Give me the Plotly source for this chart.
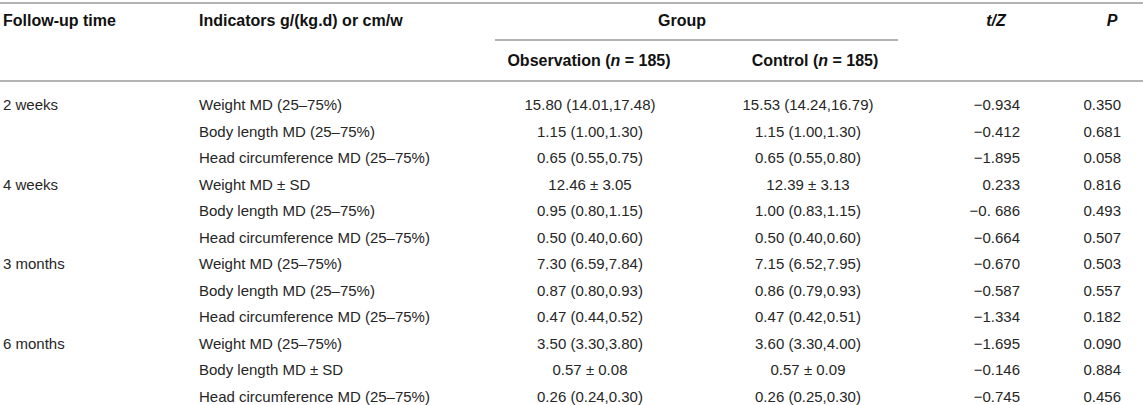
import plotly.graph_objects as go

# Table data
follow_up = ["2 weeks", "", "", "4 weeks", "", "", "3 months", "", "", "6 months", "", ""]
indicators = [
    "Weight MD (25–75%)", "Body length MD (25–75%)", "Head circumference MD (25–75%)",
    "Weight MD ± SD", "Body length MD (25–75%)", "Head circumference MD (25–75%)",
    "Weight MD (25–75%)", "Body length MD (25–75%)", "Head circumference MD (25–75%)",
    "Weight MD (25–75%)", "Body length MD ± SD", "Head circumference MD (25–75%)",
]
observation = [
    "15.80 (14.01,17.48)", "1.15 (1.00,1.30)", "0.65 (0.55,0.75)",
    "12.46 ± 3.05", "0.95 (0.80,1.15)", "0.50 (0.40,0.60)",
    "7.30 (6.59,7.84)", "0.87 (0.80,0.93)", "0.47 (0.44,0.52)",
    "3.50 (3.30,3.80)", "0.57 ± 0.08", "0.26 (0.24,0.30)",
]
control = [
    "15.53 (14.24,16.79)", "1.15 (1.00,1.30)", "0.65 (0.55,0.80)",
    "12.39 ± 3.13", "1.00 (0.83,1.15)", "0.50 (0.40,0.60)",
    "7.15 (6.52,7.95)", "0.86 (0.79,0.93)", "0.47 (0.42,0.51)",
    "3.60 (3.30,4.00)", "0.57 ± 0.09", "0.26 (0.25,0.30)",
]
t_z = [
    "−0.934", "−0.412", "−1.895",
    "0.233", "−0. 686", "−0.664",
    "−0.670", "−0.587", "−1.334",
    "−1.695", "−0.146", "−0.745",
]
p_values = [
    "0.350", "0.681", "0.058",
    "0.816", "0.493", "0.507",
    "0.503", "0.557", "0.182",
    "0.090", "0.884", "0.456",
]

# Layout (axis units = pixels)
W, H = 1143, 405
ROW0, ROW_H = 106.5, 26.5
HEAD1_Y, HEAD2_Y = 21.5, 61.5
TEXT_COLOR = "#262626"
LINE_COLOR = "#b4b4b4"
FAMILY = "Liberation Sans, Arial, Helvetica, sans-serif"
FONT = dict(family=FAMILY, size=15, color=TEXT_COLOR)
HEAD_FONT = dict(family=FAMILY, size=16, color="#111111")

row_y = [ROW0 + i * ROW_H for i in range(len(indicators))]

fig = go.Figure()


def add_column(texts, x, ys, pos, font=FONT):
    fig.add_trace(go.Scatter(
        x=[x] * len(texts), y=ys, text=texts, mode="text",
        textposition=pos, textfont=font, hoverinfo="skip", showlegend=False,
        cliponaxis=False,
    ))


# body columns
add_column(follow_up, 3, row_y, "middle right")
add_column(indicators, 199, row_y, "middle right")
add_column(observation, 590, row_y, "middle center")
add_column(control, 808, row_y, "middle center")
add_column(t_z, 1020, row_y, "middle left")
add_column(p_values, 1121, row_y, "middle left")

# header
add_column(["<b>Follow-up time</b>"], 3, [HEAD1_Y], "middle right", HEAD_FONT)
add_column(["<b>Indicators g/(kg.d) or cm/w</b>"], 199, [HEAD1_Y], "middle right", HEAD_FONT)
add_column(["<b>Group</b>"], 682, [HEAD1_Y], "middle center", HEAD_FONT)
add_column(["<b><i>t/Z</i></b>"], 996, [HEAD1_Y], "middle center", HEAD_FONT)
add_column(["<b><i>P</i></b>"], 1112, [HEAD1_Y], "middle center", HEAD_FONT)
add_column(["<b>Observation (<i>n</i> = 185)</b>"], 589, [HEAD2_Y], "middle center", HEAD_FONT)
add_column(["<b>Control (<i>n</i> = 185)</b>"], 815, [HEAD2_Y], "middle center", HEAD_FONT)

# rules
line = dict(color=LINE_COLOR, width=2)
fig.add_shape(type="line", x0=0, x1=W, y0=3, y1=3, xref="x", yref="y", line=line)
fig.add_shape(type="line", x0=495, x1=898, y0=40, y1=40, xref="x", yref="y", line=line)
fig.add_shape(type="line", x0=0, x1=W, y0=81, y1=81, xref="x", yref="y", line=line)

fig.update_layout(
    width=W, height=H,
    margin=dict(l=0, r=0, t=0, b=0),
    paper_bgcolor="white", plot_bgcolor="white",
    xaxis=dict(range=[0, W], visible=False, fixedrange=True),
    yaxis=dict(range=[H, 0], visible=False, fixedrange=True),
)

# drop the browser's default 8px body margin so the table sits at the page corner
fig.write_html(
    "out.html",
    config={"displayModeBar": False},
    post_script="document.body.style.margin='0';document.body.style.overflow='hidden';",
)
